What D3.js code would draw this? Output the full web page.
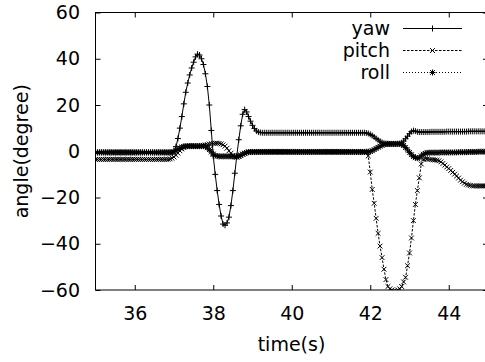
<!DOCTYPE html>
<html>
<head>
<meta charset="utf-8">
<script src="https://cdn.jsdelivr.net/npm/d3@7"></script>
<style>
  body { margin: 0; background: #fff; }
  text { font-family: "DejaVu Sans", sans-serif; font-size: 19px; fill: #000; }
</style>
</head>
<body>
<div id="chart"></div>
<script>
// sampling: one value every 0.05 s, starting at 35 s
var t0 = 35, dt = 0.05;

var yaw = [
  -0.5,-0.5,-0.5,-0.5,-0.5,-0.5,-0.5,-0.5,-0.5,-0.5,-0.5,-0.5,-0.5,-0.5,-0.5,-0.5,-0.5,-0.5,-0.5,-0.5,
  -0.5,-0.5,-0.5,-0.5,-0.5,-0.5,-0.5,-0.5,-0.5,-0.5,-0.5,-0.5,-0.5,-0.5,-0.5,-0.5,-0.5,-0.5,-0.5,-0.5,
  0.3,2,5.5,10,15,20.5,25.5,29.5,33,36,38.5,40.8,42,41.6,40,37.5,33.5,28,20,9,
  -2,-10,-17,-23,-28,-31.5,-32,-31,-28.5,-23.5,-17,-9.5,-2,5,11,16,18,17,15,13,
  11.2,9.8,8.8,8.3,8.1,8,8,8,8,8,8,8,8,8,8,8,8,8,8,8,
  8,8,8,8,8,8,8,8,8,8,8,8,8,8,8,8,8,8,8,8,
  8,8,8,8,8,8,8,8,8,8,8,8,8,8,8,8,8,8,7.9,7.7,
  7.3,6.8,6.2,5.5,4.9,4.3,3.8,3.5,3.3,3.2,3.1,3.1,3.1,3.1,3.2,3.3,3.7,4.4,5.4,6.5,
  7.6,8.5,8.9,8.7,8.4,8.3,8.3,8.3,8.3,8.3,8.3,8.4,8.4,8.4,8.4,8.4,8.4,8.4,8.4,8.5,
  8.5,8.5,8.5,8.5,8.5,8.5,8.5,8.5,8.5,8.5,8.6,8.6,8.6,8.6,8.6,8.6,8.6,8.6,8.6,8.6,8.6
];

var pitch = [
  -3.5,-3.5,-3.5,-3.5,-3.5,-3.5,-3.5,-3.5,-3.5,-3.5,-3.5,-3.5,-3.5,-3.5,-3.5,-3.5,-3.5,-3.5,-3.5,-3.5,
  -3.5,-3.5,-3.5,-3.5,-3.5,-3.5,-3.5,-3.5,-3.5,-3.5,-3.5,-3.5,-3.5,-3.5,-3.5,-3.5,-3.5,-3.5,-3.3,-3.0,
  -2.5,-1.7,-0.8,0.2,1.0,1.6,2.0,2.2,2.3,2.3,2.3,2.2,2.2,2.2,2.3,2.5,2.7,2.9,3.1,3.3,
  3.4,3.5,3.5,3.4,3.2,2.8,2.2,1.3,0.2,-0.9,-1.8,-2.4,-2.5,-2.2,-1.7,-1.2,-0.8,-0.5,-0.3,-0.2,
  -0.2,-0.2,-0.2,-0.2,-0.2,-0.2,-0.2,-0.2,-0.2,-0.2,-0.2,-0.2,-0.2,-0.2,-0.2,-0.2,-0.2,-0.2,-0.2,-0.2,
  -0.2,-0.2,-0.2,-0.2,-0.2,-0.2,-0.2,-0.2,-0.2,-0.2,-0.2,-0.2,-0.2,-0.2,-0.2,-0.2,-0.2,-0.2,-0.2,-0.2,
  -0.2,-0.2,-0.2,-0.2,-0.2,-0.2,-0.2,-0.2,-0.2,-0.2,-0.2,-0.2,-0.2,-0.2,-0.2,-0.2,-0.2,-0.3,-0.6,-2,
  -9,-16.5,-22.5,-29,-35.5,-41,-46,-51,-55.5,-58.5,-59.5,-60,-60.5,-60.5,-60,-59.5,-58.5,-56.5,-54.5,-49.5,
  -44,-37.5,-30,-23,-17,-11.5,-5.5,-3.5,-3.2,-3.3,-3.5,-3.6,-3.7,-3.8,-3.9,-4.1,-4.6,-5.3,-6,-6.8,
  -7.5,-8.3,-9.1,-9.9,-10.7,-11.6,-12.5,-13.2,-13.8,-14.3,-14.6,-14.8,-15,-15,-15,-15,-15,-15,-15,-15,-15
];

var roll = [
  -0.5,-0.5,-0.5,-0.5,-0.5,-0.5,-0.5,-0.5,-0.5,-0.5,-0.5,-0.5,-0.5,-0.5,-0.5,-0.5,-0.5,-0.5,-0.5,-0.5,
  -0.5,-0.5,-0.5,-0.5,-0.5,-0.5,-0.5,-0.5,-0.5,-0.5,-0.5,-0.5,-0.5,-0.5,-0.5,-0.5,-0.5,-0.5,-0.5,-0.5,
  -0.3,0.2,0.8,1.4,1.8,2.1,2.2,2.2,2.2,2.2,2.2,2.2,2.2,2.2,2.2,2.2,2.0,1.5,0.7,-0.3,
  -1.2,-1.8,-2.1,-2.2,-2.2,-2.2,-2.2,-2.2,-2.2,-2.2,-2.2,-2.3,-2.4,-2.2,-1.8,-1.3,-0.9,-0.6,-0.4,-0.3,
  -0.3,-0.3,-0.3,-0.3,-0.3,-0.3,-0.3,-0.3,-0.3,-0.3,-0.3,-0.3,-0.3,-0.3,-0.3,-0.3,-0.3,-0.3,-0.3,-0.3,
  -0.3,-0.3,-0.3,-0.3,-0.3,-0.3,-0.3,-0.3,-0.3,-0.3,-0.3,-0.3,-0.3,-0.3,-0.3,-0.3,-0.3,-0.3,-0.3,-0.3,
  -0.3,-0.3,-0.3,-0.3,-0.3,-0.3,-0.3,-0.3,-0.3,-0.3,-0.3,-0.3,-0.3,-0.3,-0.3,-0.3,-0.3,-0.3,-0.2,-0.2,
  -0.1,0.2,0.7,1.2,1.7,2.2,2.6,2.9,3.1,3.2,3.2,3.2,3.2,3.2,3.2,3.2,3.0,2.5,1.6,0.6,
  -0.5,-1.5,-2.3,-2.8,-3.0,-2.8,-2.0,-1.3,-0.9,-0.7,-0.6,-0.6,-0.6,-0.6,-0.6,-0.6,-0.5,-0.5,-0.5,-0.5,
  -0.5,-0.5,-0.5,-0.5,-0.5,-0.4,-0.4,-0.4,-0.4,-0.4,-0.3,-0.3,-0.3,-0.3,-0.3,-0.2,-0.2,-0.2,-0.2,-0.2,-0.2
];

var seriesNames = ["yaw", "pitch", "roll"];
var xTicks = [36, 38, 40, 42, 44];
var yTicks = [-60, -40, -20, 0, 20, 40, 60];

var width = 485, height = 362;
var plotLeft = 95.5, plotRight = 488, plotTop = 12.5, plotBottom = 290;

var svg = d3.select("#chart")
    .append("svg")
    .attr("width", width)
    .attr("height", height);

var x = d3.scaleLinear().domain([35, 45]).range([plotLeft, plotRight]);
var y = d3.scaleLinear().domain([-60, 60]).range([plotBottom, plotTop]);

// marker shapes, gnuplot style
function plus(s) { return "M" + (-s) + ",0H" + s + "M0," + (-s) + "V" + s; }
function cross(s) { return "M" + (-s) + "," + (-s) + "L" + s + "," + s + "M" + (-s) + "," + s + "L" + s + "," + (-s); }
function star(s) { return plus(s) + cross(s * 0.8); }

var styles = [
    { name: seriesNames[0], values: yaw, dash: null, marker: plus(3) },
    { name: seriesNames[1], values: pitch, dash: "2.5,1.5", marker: cross(2.4) },
    { name: seriesNames[2], values: roll, dash: "1,2", marker: star(3) }
];

// ticks, all pointing inward
svg.append("g")
    .attr("transform", "translate(0," + plotBottom + ")")
    .call(d3.axisBottom(x).tickValues(xTicks).tickSize(-5).tickSizeOuter(0).tickPadding(16.5))
    .call(function (g) { g.select(".domain").remove(); });

svg.append("g")
    .attr("transform", "translate(0," + plotTop + ")")
    .call(d3.axisTop(x).tickValues(xTicks).tickSize(-5).tickSizeOuter(0).tickFormat(""))
    .call(function (g) { g.select(".domain").remove(); });

svg.append("g")
    .attr("transform", "translate(" + plotLeft + ",0)")
    .call(d3.axisLeft(y).tickValues(yTicks).tickSize(-5).tickSizeOuter(0).tickPadding(15.5))
    .call(function (g) { g.select(".domain").remove(); });

svg.append("g")
    .attr("transform", "translate(" + plotRight + ",0)")
    .call(d3.axisRight(y).tickValues(yTicks).tickSize(-5).tickSizeOuter(0).tickFormat(""))
    .call(function (g) { g.select(".domain").remove(); });

svg.selectAll(".tick line").attr("stroke", "#000");
svg.selectAll(".tick text")
    .style("font-family", "'DejaVu Sans', sans-serif")
    .style("font-size", "19px")
    .attr("fill", "#000");

// frame
svg.append("rect")
    .attr("x", plotLeft).attr("y", plotTop)
    .attr("width", plotRight - plotLeft).attr("height", plotBottom - plotTop)
    .attr("fill", "none").attr("stroke", "#000").attr("stroke-width", 1);

// axis titles
svg.append("text")
    .attr("x", 291.5)
    .attr("y", 351)
    .attr("text-anchor", "middle")
    .text("time(s)");

svg.append("text")
    .attr("transform", "translate(28," + ((plotTop + plotBottom) / 2) + ") rotate(-90)")
    .attr("text-anchor", "middle")
    .text("angle(degree)");

// data series
svg.append("clipPath").attr("id", "plot-clip")
    .append("rect")
    .attr("x", plotLeft).attr("y", plotTop)
    .attr("width", plotRight - plotLeft).attr("height", plotBottom - plotTop);

var plot = svg.append("g").attr("clip-path", "url(#plot-clip)");

var line = d3.line()
    .x(function (d, i) { return x(t0 + i * dt); })
    .y(function (d) { return y(d); });

styles.forEach(function (s) {
    var g = plot.append("g");
    g.append("path")
        .datum(s.values)
        .attr("d", line)
        .attr("fill", "none")
        .attr("stroke", "#000")
        .attr("stroke-width", 1)
        .attr("stroke-dasharray", s.dash);
    g.selectAll(".pt")
        .data(s.values)
        .enter()
        .append("path")
        .attr("class", "pt")
        .attr("transform", function (d, i) { return "translate(" + x(t0 + i * dt) + "," + y(d) + ")"; })
        .attr("d", s.marker)
        .attr("fill", "none")
        .attr("stroke", "#000")
        .attr("stroke-width", 1);
});

// legend
var legend = svg.append("g");
styles.forEach(function (s, i) {
    var ly = 28.5 + i * 22;
    legend.append("text")
        .attr("x", 390).attr("y", ly)
        .attr("dy", "0.35em")
        .attr("text-anchor", "end")
        .text(s.name);
    legend.append("line")
        .attr("x1", 403).attr("x2", 462)
        .attr("y1", ly).attr("y2", ly)
        .attr("stroke", "#000")
        .attr("stroke-dasharray", s.dash);
    legend.append("path")
        .attr("transform", "translate(432.5," + ly + ")")
        .attr("d", s.marker)
        .attr("fill", "none")
        .attr("stroke", "#000");
});
</script>
</body>
</html>
